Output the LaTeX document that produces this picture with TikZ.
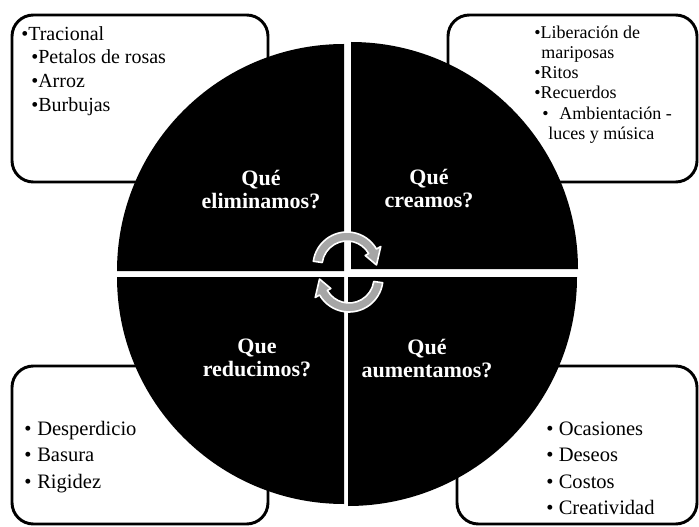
\documentclass[tikz,border=0pt]{standalone}
\usepackage{fontspec}
\setmainfont{Liberation Serif}
\usetikzlibrary{calc}
\definecolor{arrgray}{RGB}{166,166,166}
\begin{document}
\begin{tikzpicture}[x=0.75pt,y=-0.75pt,
  box/.style={draw=black, line width=2.2pt, rounded corners=16pt},
  quad/.style={fill=black},
  lbl/.style={text=white, anchor=base, inner sep=0, font=\fontsize{16.5}{18}\selectfont\bfseries},
  itA/.style={anchor=base west, inner sep=0, font=\fontsize{15}{18}\selectfont},
  itB/.style={anchor=base west, inner sep=0, font=\fontsize{13.5}{15}\selectfont},
  itC/.style={anchor=base west, inner sep=0, font=\fontsize{15.4}{18}\selectfont},
  arr/.style={fill=arrgray, draw=white, line width=1.2pt, line join=round}]
\useasboundingbox (0,0) rectangle (699,527);
% boxes
\draw[box] (12,15) rectangle (268,182);
\draw[box] (448,15) rectangle (697,182);
\draw[box] (12,366) rectangle (268,524);
\draw[box] (457,366) rectangle (697,524);
% quadrants
\fill[quad] (344,271) -- ++(180:227) arc[start angle=180, end angle=270, radius=227] -- cycle;
\fill[quad] (351,269) -- ++(270:227) arc[start angle=270, end angle=360, radius=227] -- cycle;
\fill[quad] (348,277) -- ++(0:229) arc[start angle=0, end angle=90, radius=229] -- cycle;
\fill[quad] (344,277) -- ++(90:227) arc[start angle=90, end angle=180, radius=227] -- cycle;
% circular arrows
\coordinate (ca) at (347,266);
\coordinate (cb) at (349,278);
\draw[arr] ($(ca)+(188:34)$) arc[start angle=188, end angle=330, radius=34]
  -- ($(ca)+(330:39)$) -- ($(ca)+(358:29.5)$) -- ($(ca)+(330:21)$) -- ($(ca)+(330:25)$)
  arc[start angle=330, end angle=188, radius=25] -- cycle;
\draw[arr] ($(cb)+(8:34)$) arc[start angle=8, end angle=150, radius=34]
  -- ($(cb)+(150:39)$) -- ($(cb)+(178:29.5)$) -- ($(cb)+(150:21)$) -- ($(cb)+(150:25)$)
  arc[start angle=150, end angle=8, radius=25] -- cycle;
% labels
\node[lbl] (l1a) at (261,186) {Qué};
\node[lbl] (l1b) at (261,209) {eliminamos?};
\node[lbl] (l2a) at (429,185) {Qué};
\node[lbl] (l2b) at (429,208) {creamos?};
\node[lbl] (l3a) at (257,353) {Que};
\node[lbl] (l3b) at (257,376) {reducimos?};
\node[lbl] (l4a) at (427,354) {Qué};
\node[lbl] (l4b) at (427,377) {aumentamos?};
% top-left items
\node[itA] (a1) at (21,41) {•Tracional};
\node[itA] (a2) at (31,64) {•Petalos de rosas};
\node[itA] (a3) at (31,88) {•Arroz};
\node[itA] (a4) at (31,112) {•Burbujas};
% top-right items
\node[itB] (b1) at (534,39) {•Liberación de};
\node[itB] (b2) at (541,59) {mariposas};
\node[itB] (b3) at (534,79) {•Ritos};
\node[itB] (b4) at (534,99) {•Recuerdos};
\node[itB] (b5) at (542,120) {\makebox[12.75pt][l]{•}Ambientación -};
\node[itB] (b6) at (548,140) {luces y música};
% bottom-left items
\node[itC] (c1) at (24,435) {\makebox[9.75pt][l]{•}Desperdicio};
\node[itC] (c2) at (24,461.5) {\makebox[9.75pt][l]{•}Basura};
\node[itC] (c3) at (24,488) {\makebox[9.75pt][l]{•}Rigidez};
% bottom-right items
\node[itC] (d1) at (546,435) {\makebox[9.4pt][l]{•}Ocasiones};
\node[itC] (d2) at (546,461.5) {\makebox[9.4pt][l]{•}Deseos};
\node[itC] (d3) at (546,488) {\makebox[9.4pt][l]{•}Costos};
\node[itC] (d4) at (546,514) {\makebox[9.4pt][l]{•}Creatividad};
\end{tikzpicture}
\end{document}
